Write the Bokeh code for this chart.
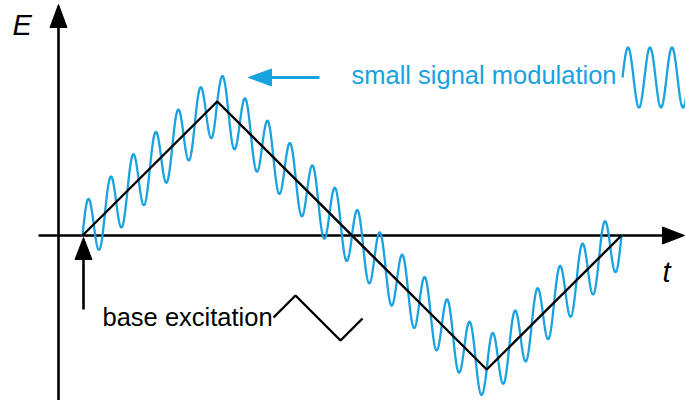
import numpy as np
from bokeh.plotting import figure
from bokeh.models import Range1d
from bokeh.core.properties import value
from bokeh.embed import file_html
from bokeh.resources import INLINE

# ---- data (schematic) ----
base_t = [0.0, 0.25, 0.75, 1.0]      # triangle wave knots (one period)
base_E = [0.0, 1.0, -1.0, 0.0]
mod_cycles = 24                      # small-signal cycles per base period
mod_amplitude = 0.23                 # relative to base amplitude

BLUE = "#19a2e0"
FONT = value("Liberation Sans")

# pixel <-> data helpers (image pixel coordinates of the reference)
X0, XS = 82.0, 539.0
Y0, YS = 235.0, 134.0
def X(px):
    return (px - X0) / XS
def Y(py):
    return (Y0 - py) / YS

W, H = 685, 400
OX, OY = 0, 0
p = figure(width=W, height=H, output_backend="svg", toolbar_location=None,
           x_range=Range1d(X(OX), X(OX + W)), y_range=Range1d(Y(OY + H), Y(OY)),
           min_border=0, outline_line_color=None)
p.axis.visible = False
p.grid.visible = False
p.background_fill_color = "white"

# axes
p.line([X(58), X(58)], [Y(405), Y(25)], line_color="black", line_width=2.6)
p.patch([X(58), X(49.5), X(66.5)], [Y(4), Y(27), Y(27)], color="black")
p.line([X(38), X(664)], [Y(235), Y(235)], line_color="black", line_width=2.6)
p.patch([X(684), X(662), X(662)], [Y(235), Y(226.5), Y(243.5)], color="black")

# signals
t = np.linspace(0, 1, 3000)
tri = np.interp(t, base_t, base_E)
sig = tri + mod_amplitude * np.sin(2 * np.pi * mod_cycles * t)
p.line(t, sig, line_color=BLUE, line_width=2.3)
p.line(base_t, base_E, line_color="black", line_width=2.4)

# legend-like icons
ti = np.linspace(X(622), X(690), 400)
p.line(ti, Y(77) + (30 / YS) * np.sin(2 * np.pi * (ti - X(622)) / (22 / XS)),
       line_color=BLUE, line_width=2.3)
p.line([X(273), X(295), X(340), X(362)], [Y(317), Y(295), Y(340), Y(318)],
       line_color="black", line_width=2.4)

# arrows
p.line([X(270), X(319)], [Y(77), Y(77)], line_color=BLUE, line_width=3)
p.patch([X(248), X(271), X(271)], [Y(77), Y(68.5), Y(85.5)], color=BLUE)
p.line([X(83), X(83)], [Y(258), Y(309)], line_color="black", line_width=2.6)
p.patch([X(83), X(74.5), X(91.5)], [Y(237), Y(259), Y(259)], color="black")

# texts
p.text([X(12)], [Y(24)], text=["E"], text_font=FONT, text_font_size="29px",
       text_font_style="italic", text_color="black", text_baseline="middle")
p.text([X(662)], [Y(271)], text=["t"], text_font=FONT, text_font_size="29px",
       text_font_style="italic", text_color="black", text_baseline="middle")
p.text([X(351)], [Y(74)], text=["small signal modulation"], text_font=FONT,
       text_font_size="25.5px", text_color=BLUE, text_baseline="middle")
p.text([X(102)], [Y(316)], text=["base excitation"], text_font=FONT,
       text_font_size="25.5px", text_color="black", text_baseline="middle")

open("out.html", "w").write(file_html(p, INLINE))
